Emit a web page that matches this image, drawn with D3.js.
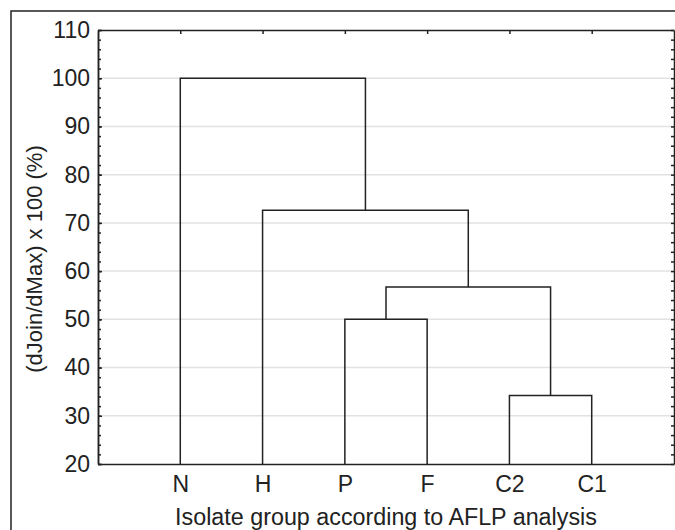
<!DOCTYPE html>
<html lang="en">
<head>
    <meta charset="utf-8"/>
    <style>
        body {
            margin: 0;
            background: #fff;
        }
        svg {
            display: block;
            font-family: "Liberation Sans", Arial, sans-serif;
        }
        .axis path, .axis line {
            stroke: #222;
            stroke-width: 1.5px;
        }
        .axis text {
            font-size: 23px;
            fill: #222;
        }
        line.grid {
            stroke: #e2e2e2;
            stroke-width: 1.5px;
        }
        path.link {
            fill: none;
            stroke: #222;
            stroke-width: 1.5px;
        }
    </style>
    <script src="https://d3js.org/d3.v7.min.js" charset="utf-8"></script>
</head>
<body>
<svg id="chart" width="675" height="530"></svg>
<script>
    // leaves, left to right
    var leaves = ['N', 'H', 'P', 'F', 'C2', 'C1'];
    // joins (linkage style): node ids 0-5 are leaves, each join makes a new id 6, 7, ...
    var joinA = [4, 2, 7, 1, 0];
    var joinB = [5, 3, 6, 8, 9];
    var joinHeight = [34.2, 50.0, 56.7, 72.6, 100.0];
    var yTicks = [20, 30, 40, 50, 60, 70, 80, 90, 100, 110];
    var gridValues = [30, 40, 50, 60, 70, 80, 90, 100];

    var svg = d3.select('#chart');
    var pLeft = 98, pRight = 674, pTop = 30, pBottom = 464;

    var x = d3.scalePoint().domain(leaves).range([pLeft, pRight]).padding(1);
    var y = d3.scaleLinear().domain([20, 110]).range([pBottom, pTop]);

    // outer frame
    svg.append('path')
        .attr('d', 'M11,535 V11 H680')
        .attr('fill', 'none')
        .attr('stroke', '#222')
        .attr('stroke-width', 1.5);

    svg.selectAll('line.grid')
        .data(gridValues)
        .enter().append('line')
        .classed('grid', true)
        .attr('x1', pLeft).attr('x2', pRight)
        .attr('y1', function(d) { return y(d); })
        .attr('y2', function(d) { return y(d); });

    // node positions
    var nx = leaves.map(function(d) { return x(d); });
    var ny = leaves.map(function() { return y(20); });
    joinA.forEach(function(a, i) {
        var b = joinB[i], h = y(joinHeight[i]);
        svg.append('path')
            .classed('link', true)
            .attr('d', 'M' + nx[a] + ',' + ny[a] + ' V' + h + ' H' + nx[b] + ' V' + ny[b]);
        nx.push((nx[a] + nx[b]) / 2);
        ny.push(h);
    });

    // axes
    svg.append('g').attr('class', 'axis')
        .attr('transform', 'translate(' + pLeft + ',0)')
        .call(d3.axisLeft(y).tickValues(yTicks).tickSize(-4).tickPadding(8).tickSizeOuter(0));
    svg.append('g').attr('class', 'axis')
        .attr('transform', 'translate(' + pLeft + ',0)')
        .call(d3.axisLeft(y).tickValues(d3.range(20, 111, 2)).tickSize(-3).tickFormat('').tickSizeOuter(0));
    svg.append('g').attr('class', 'axis')
        .attr('transform', 'translate(' + pRight + ',0)')
        .call(d3.axisRight(y).tickValues(d3.range(20, 111, 2)).tickSize(-3).tickFormat('').tickSizeOuter(0));
    svg.append('g').attr('class', 'axis')
        .attr('transform', 'translate(0,' + pTop + ')')
        .call(d3.axisTop(x).tickSize(-4).tickFormat('').tickSizeOuter(0));
    svg.append('g').attr('class', 'axis')
        .attr('transform', 'translate(0,' + pBottom + ')')
        .call(d3.axisBottom(x).tickSize(0).tickPadding(12).tickSizeOuter(0));

    svg.append('text')
        .attr('transform', 'translate(34,' + 259 + ') rotate(-90)')
        .attr('text-anchor', 'middle')
        .attr('dy', '0.35em')
        .attr('font-size', 22)
        .attr('fill', '#222')
        .text('(dJoin/dMax) x 100 (%)');

    svg.append('text')
        .attr('x', (pLeft + pRight) / 2)
        .attr('y', 525)
        .attr('text-anchor', 'middle')
        .attr('font-size', 23.3)
        .attr('fill', '#222')
        .text('Isolate group according to AFLP analysis');
</script>
</body>
</html>
